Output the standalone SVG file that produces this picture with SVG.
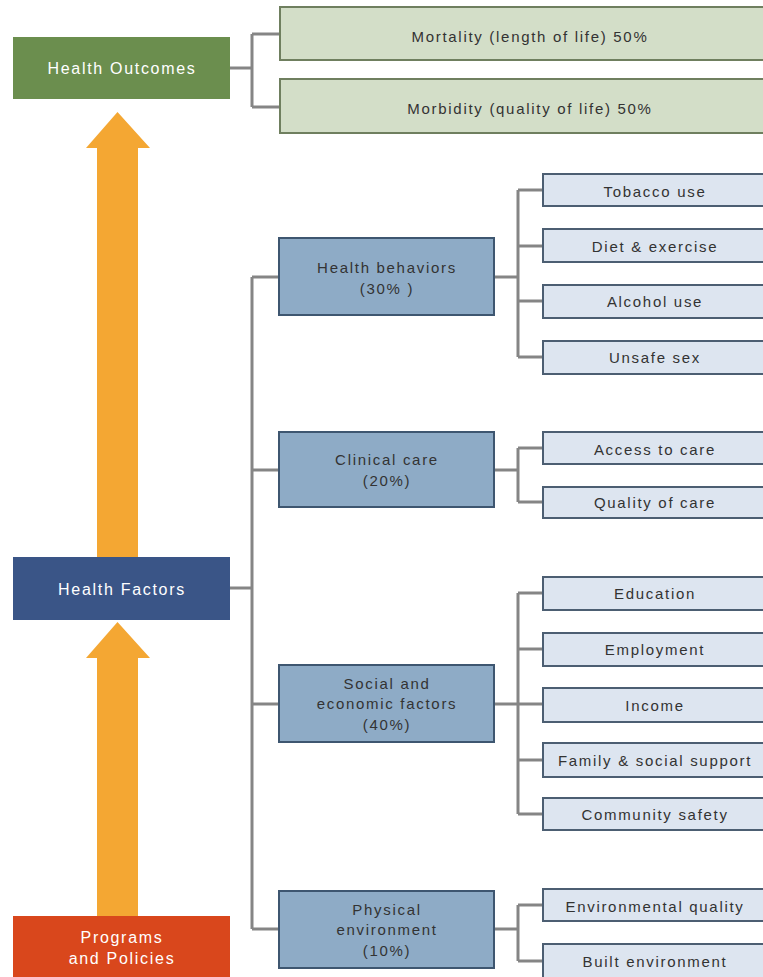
<svg xmlns="http://www.w3.org/2000/svg" width="763" height="977" viewBox="0 0 763 977">
<style>
text{font-family:"Liberation Sans",Arial,sans-serif;font-size:15px;letter-spacing:1.7px;text-anchor:middle;dominant-baseline:central}
.w{fill:#ffffff;font-size:16px}
.d{fill:#333333}
.out{fill:#d3dec8;stroke:#6f7f5f;stroke-width:2}
.mid{fill:#8eabc6;stroke:#3e5670;stroke-width:2}
.sub{fill:#dde5f0;stroke:#4c5e72;stroke-width:2}
.conn{fill:none;stroke:#858585;stroke-width:3}
.arr{fill:#f4a733}
</style>
<rect width="763" height="977" fill="#ffffff"/>
<g id="arrows">
<path class="arr" d="M97,557 V148 H86 L117.5,112 L150,148 H138 V557 Z"/>
<path class="arr" d="M97,916 V658 H86 L117.5,622 L150,658 H138 V916 Z"/>
</g>
<g id="connectors">
<path class="conn" d="M230,68 H252 M252,34 V107 M252,34 H280 M252,107 H280"/>
<path class="conn" d="M230,588 H252 M252,277 V929 M252,277 H279 M252,470 H279 M252,704 H279 M252,929 H279"/>
<path class="conn" d="M494,277 H518 M518,190 V357 M518,190 H543 M518,246 H543 M518,301 H543 M518,357 H543"/>
<path class="conn" d="M494,470 H518 M518,448 V502 M518,448 H543 M518,502 H543"/>
<path class="conn" d="M494,704 H518 M518,593 V814 M518,593 H543 M518,649 H543 M518,704 H543 M518,760 H543 M518,814 H543"/>
<path class="conn" d="M494,929 H518 M518,905 V961 M518,905 H543 M518,961 H543"/>
</g>
<g id="health-outcomes"><rect x="13" y="37" width="217" height="62" fill="#6b8e4e"/><text class="w" x="122" y="68">Health Outcomes</text></g>
<g id="mortality"><rect class="out" x="280" y="7" width="490" height="53"/><text class="d" x="530" y="36">Mortality (length of life) 50%</text></g>
<g id="morbidity"><rect class="out" x="280" y="79" width="490" height="54"/><text class="d" x="530" y="108">Morbidity (quality of life) 50%</text></g>
<g id="health-factors"><rect x="13" y="557" width="217" height="63" fill="#3a5587"/><text class="w" x="122" y="589">Health Factors</text></g>
<g id="programs"><rect x="13" y="916" width="217" height="61" fill="#d9471c"/><text class="w" x="122" y="937">Programs</text><text class="w" x="122" y="958">and Policies</text></g>
<g id="health-behaviors"><rect class="mid" x="279" y="238" width="215" height="77"/><text class="d" x="387" y="267">Health behaviors</text><text class="d" x="387" y="288">(30% )</text></g>
<g id="clinical-care"><rect class="mid" x="279" y="432" width="215" height="75"/><text class="d" x="387" y="459">Clinical care</text><text class="d" x="387" y="480">(20%)</text></g>
<g id="social-economic"><rect class="mid" x="279" y="665" width="215" height="77"/><text class="d" x="387" y="683">Social and</text><text class="d" x="387" y="703">economic factors</text><text class="d" x="387" y="724">(40%)</text></g>
<g id="physical-environment"><rect class="mid" x="279" y="891" width="215" height="77"/><text class="d" x="387" y="909">Physical</text><text class="d" x="387" y="929">environment</text><text class="d" x="387" y="950">(10%)</text></g>
<g id="tobacco"><rect class="sub" x="543" y="174" width="230" height="32"/><text class="d" x="655" y="191">Tobacco use</text></g>
<g id="diet"><rect class="sub" x="543" y="229" width="230" height="33"/><text class="d" x="655" y="246">Diet &amp; exercise</text></g>
<g id="alcohol"><rect class="sub" x="543" y="285" width="230" height="33"/><text class="d" x="655" y="301">Alcohol use</text></g>
<g id="unsafe-sex"><rect class="sub" x="543" y="341" width="230" height="33"/><text class="d" x="655" y="357">Unsafe sex</text></g>
<g id="access"><rect class="sub" x="543" y="432" width="230" height="32"/><text class="d" x="655" y="449">Access to care</text></g>
<g id="quality"><rect class="sub" x="543" y="487" width="230" height="31"/><text class="d" x="655" y="502">Quality of care</text></g>
<g id="education"><rect class="sub" x="543" y="577" width="230" height="33"/><text class="d" x="655" y="593">Education</text></g>
<g id="employment"><rect class="sub" x="543" y="633" width="230" height="33"/><text class="d" x="655" y="649">Employment</text></g>
<g id="income"><rect class="sub" x="543" y="688" width="230" height="34"/><text class="d" x="655" y="705">Income</text></g>
<g id="family"><rect class="sub" x="543" y="743" width="230" height="34"/><text class="d" x="655" y="760">Family &amp; social support</text></g>
<g id="community"><rect class="sub" x="543" y="798" width="230" height="32"/><text class="d" x="655" y="814">Community safety</text></g>
<g id="env-quality"><rect class="sub" x="543" y="889" width="230" height="32"/><text class="d" x="655" y="906">Environmental quality</text></g>
<g id="built-env"><rect class="sub" x="543" y="944" width="230" height="40"/><text class="d" x="655" y="961">Built environment</text></g>
</svg>
